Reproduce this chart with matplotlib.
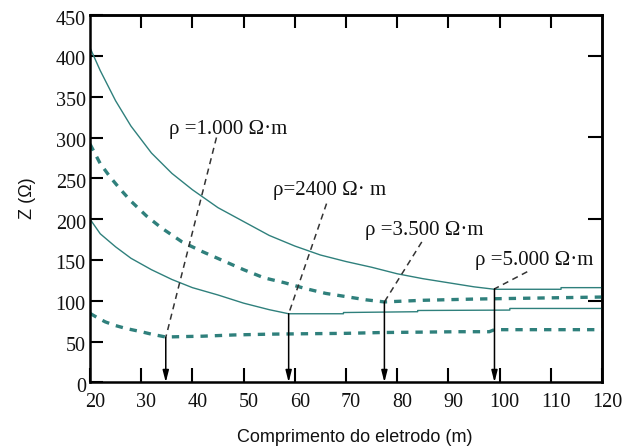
import matplotlib
matplotlib.use("Agg")
import matplotlib.pyplot as plt
from matplotlib.transforms import ScaledTranslation

# ---- data ----
x_5000 = [20, 22, 25, 28, 32, 36, 40, 45, 50, 55, 60, 65, 70, 75, 80, 85, 90, 95, 99, 112, 112, 120]
z_5000 = [410, 382, 345, 314, 281, 256, 236, 214, 197, 180, 167, 156, 148, 141, 133, 127, 122, 117, 114, 114, 116, 116]

x_3500 = [20, 22, 24, 26, 28, 31, 34, 38, 42, 46, 50, 54, 58, 62, 66, 70, 74, 77.5, 85, 95, 105, 120]
z_3500 = [292, 268, 251, 236, 222, 204, 189, 172, 160, 149, 138, 128, 122, 115, 109, 105, 101, 98.5, 100.5, 102, 103, 104.5]

x_2400 = [20, 22, 25, 28, 32, 36, 40, 45, 50, 55, 58.8, 69.5, 69.5, 84, 84, 102, 102, 120]
z_2400 = [200, 182, 166, 152, 138, 126, 116, 107, 97, 89, 84, 84, 85.5, 86.5, 88, 88.5, 90.5, 90.5]

x_1000 = [20, 21.5, 23, 25, 27, 30, 32, 34.8, 38, 42, 48, 55, 62, 70, 77, 85, 92, 98, 99, 120]
z_1000 = [84.5, 79, 74, 69.5, 66, 62, 59, 55.5, 56, 56.5, 58, 59, 59.5, 60, 61, 61.5, 62, 62, 64.5, 64.5]

labels = ["ρ =1.000 Ω·m", "ρ=2400 Ω· m", "ρ =3.500 Ω·m", "ρ =5.000 Ω·m"]
opt_len = [34.8, 58.8, 77.5, 99.0]
opt_z = [55.0, 84.0, 98.5, 114.5]
label_x = [46.9, 66.7, 85.2, 106.7]
label_y = [304, 229.6, 180.5, 143.7]
leader_x = [44.7, 66.2, 84.8, 105.4]
leader_y = [300, 219, 172, 135.5]

x_ticks = [20, 30, 40, 50, 60, 70, 80, 90, 100, 110, 120]
y_ticks = [0, 50, 100, 150, 200, 250, 300, 350, 400, 450]
top_ticks = [30, 40, 50, 60, 70, 80, 90, 100, 110]
right_ticks = [100, 200, 300, 400]

teal = "#2f807c"
W, H, DPI = 634, 448, 100

fig = plt.figure(figsize=(W / DPI, H / DPI), dpi=DPI)
ax = fig.add_axes([90 / W, (H - 382.3) / H, (602 - 90) / W, (382.3 - 15.1) / H])

ax.plot(x_5000, z_5000, color=teal, lw=1.0)
ax.plot(x_2400, z_2400, color=teal, lw=1.0)
ax.plot(x_3500, z_3500, color=teal, lw=2.4, ls=(0, (2.2, 2.1)))
ax.plot(x_1000, z_1000, color=teal, lw=2.4, ls=(0, (2.2, 2.1)))

for lab, lx, ly, sx, sy, ox, oz in zip(labels, label_x, label_y, leader_x, leader_y, opt_len, opt_z):
    ax.plot([sx, ox], [sy, oz], color="#333333", lw=1.1, ls=(0, (4, 3)))
    ax.annotate("", xy=(ox, 0), xytext=(ox, oz),
                arrowprops=dict(arrowstyle="-|>,head_length=0.7,head_width=0.18",
                                color="black", lw=1.1, shrinkA=0, shrinkB=0))
    ax.text(lx, ly, lab, ha="center", va="baseline", family="Liberation Serif",
            fontsize=15, color="#111111")

ax.set_xlim(20, 120)
ax.set_ylim(0, 450)
ax.set_xticks(x_ticks)
ax.set_yticks(y_ticks)
ax.set_xticklabels([str(v) for v in x_ticks])
ax.set_yticklabels([str(v) for v in y_ticks])
for s in ax.spines.values():
    s.set_linewidth(1.8)
    s.set_color("black")
ax.tick_params(axis="x", direction="in", length=10, width=1.5, pad=8,
               labelsize=14.5, labelcolor="#111111")
ax.tick_params(axis="y", direction="in", length=9, width=1.5, pad=3,
               labelsize=14.5, labelcolor="#111111")
for t in ax.get_xticklabels() + ax.get_yticklabels():
    t.set_fontfamily("Liberation Serif")
for t in ax.get_xticklabels():
    t.set_transform(t.get_transform() + ScaledTranslation(5 / DPI, 0, fig.dpi_scale_trans))
for t in ax.get_yticklabels():
    t.set_transform(t.get_transform() + ScaledTranslation(0, -2.5 / DPI, fig.dpi_scale_trans))

top = ax.secondary_xaxis("top")
top.set_xticks(top_ticks)
top.tick_params(direction="in", length=9, width=1.5, labeltop=False)
top.spines["top"].set_linewidth(1.8)
right = ax.secondary_yaxis("right")
right.set_yticks(right_ticks)
right.tick_params(direction="in", length=10, width=1.5, labelright=False)
right.spines["right"].set_linewidth(1.8)

fig.text(355 / W, (H - 442) / H, "Comprimento do eletrodo (m)", ha="center", va="baseline",
         family="Liberation Sans", fontsize=13, color="#111111")
fig.text(28 / W, 1 - 198 / H, "Z (Ω)", ha="center", va="center", rotation=90,
         family="Liberation Sans", fontsize=13, color="#111111")

fig.savefig("out.png", dpi=DPI)
